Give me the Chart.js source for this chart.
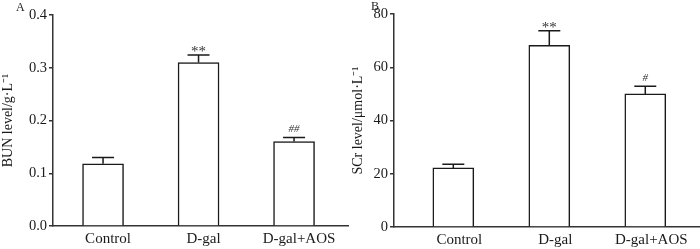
<!DOCTYPE html>
<html>
<head>
<meta charset="utf-8">
<script src="https://cdn.jsdelivr.net/npm/chart.js@4/dist/chart.umd.min.js"></script>
<style>
  body { margin: 0; background: #fff; }
  .wrap { position: absolute; top: 0; width: 350px; height: 249px; }
</style>
</head>
<body>
<div class="wrap" style="left:0"><canvas id="chartA" width="350" height="249"></canvas></div>
<div class="wrap" style="left:350px"><canvas id="chartB" width="350" height="249"></canvas></div>
<script>
// data
var groups = ['Control', 'D-gal', 'D-gal+AOS'];

var bunMean = [0.118, 0.310, 0.160];
var bunErr  = [0.012, 0.014, 0.008];
var bunSig  = ['', '**', '##'];
var bunTicks = [0, 0.1, 0.2, 0.3, 0.4];

var scrMean = [22.2, 68.2, 50.0];
var scrErr  = [1.4, 5.5, 2.9];
var scrSig  = ['', '**', '#'];
var scrTicks = [0, 20, 40, 60, 80];

var ink = '#1a1a1a';
var serif = "'Liberation Serif', 'Times New Roman', serif";

// error bars (upper only) + significance marks
var errorBars = {
  id: 'errorBars',
  afterDatasetsDraw: function(chart, args, opts) {
    var ctx = chart.ctx;
    var xs = chart.scales.x, ys = chart.scales.y;
    ctx.save();
    ctx.strokeStyle = ink;
    ctx.lineWidth = 1.5;
    for (var i = 0; i < opts.mean.length; i++) {
      var x = xs.getPixelForValue(i);
      var y0 = ys.getPixelForValue(opts.mean[i]);
      var y1 = ys.getPixelForValue(opts.mean[i] + opts.err[i]);
      ctx.beginPath();
      ctx.moveTo(x, y0);
      ctx.lineTo(x, y1);
      ctx.moveTo(x - 11, y1);
      ctx.lineTo(x + 11, y1);
      ctx.stroke();
      var s = opts.sig[i];
      if (s) {
        ctx.fillStyle = '#333';
        ctx.textAlign = 'center';
        ctx.textBaseline = 'alphabetic';
        if (s.charAt(0) == '*') {
          ctx.font = '15px ' + serif;
          ctx.fillText(s, x, y1 + 1);
        } else {
          ctx.font = 'italic 11px ' + serif;
          ctx.fillText(s, x, y1 - 5);
        }
      }
    }
    // panel letter
    ctx.fillStyle = ink;
    ctx.font = '12px ' + serif;
    ctx.textAlign = 'left';
    ctx.textBaseline = 'alphabetic';
    ctx.fillText(opts.letter, opts.letterX, opts.letterY);
    ctx.restore();
  }
};

function makeChart(id, mean, err, sig, ticks, opt) {
  var pts = mean.map(function(v, i) { return { x: i, y: v }; });
  return new Chart(document.getElementById(id), {
    type: 'bar',
    data: {
      datasets: [{
        data: pts,
        backgroundColor: '#fff',
        borderColor: ink,
        borderWidth: 1.5,
        barThickness: 41
      }]
    },
    options: {
      responsive: false,
      animation: false,
      layout: { padding: { top: opt.top, right: opt.right, left: 0, bottom: 0 } },
      plugins: {
        legend: { display: false },
        tooltip: { enabled: false },
        errorBars: {
          mean: mean, err: err, sig: sig,
          letter: opt.letter, letterX: opt.letterX, letterY: opt.letterY
        }
      },
      scales: {
        x: {
          type: 'linear',
          offset: false,
          min: opt.xMin,
          max: opt.xMax,
          afterBuildTicks: function(scale) {
            scale.ticks = groups.map(function(g, i) { return { value: i }; });
          },
          afterFit: function(scale) { scale.height = opt.xHeight; },
          grid: { display: false, drawTicks: false, tickLength: 0 },
          border: { display: true, color: '#333', width: 1.5 },
          ticks: {
            color: ink,
            padding: 4,
            labelOffset: opt.labelShift,
            maxRotation: 0,
            autoSkip: false,
            font: { family: serif, size: 15 },
            callback: function(v) { return groups[v]; }
          }
        },
        y: {
          min: ticks[0],
          max: ticks[ticks.length - 1],
          afterBuildTicks: function(scale) {
            scale.ticks = ticks.map(function(t) { return { value: t }; });
          },
          afterFit: function(scale) { scale.width = opt.yWidth; },
          grid: { drawOnChartArea: false, drawTicks: true, tickLength: 4, color: '#333', lineWidth: 1.5 },
          border: { display: true, color: '#333', width: 1.5 },
          ticks: {
            color: ink,
            padding: 2,
            font: { family: serif, size: 14.5 },
            callback: function(v) { return opt.fmt(v); }
          },
          title: {
            display: true,
            text: opt.title,
            color: ink,
            padding: { top: 0, bottom: 0 },
            font: { family: serif, size: 14 }
          }
        }
      }
    },
    plugins: [errorBars]
  });
}

makeChart('chartA', bunMean, bunErr, bunSig, bunTicks, {
  top: 15, right: 2, xHeight: 23, yWidth: 53,
  xMin: -0.524, xMax: 2.565, labelShift: 5,
  title: 'BUN level/g·L⁻¹',
  fmt: function(v) { return v.toFixed(1); },
  letter: 'A', letterX: 16, letterY: 11
});

makeChart('chartB', scrMean, scrErr, scrSig, scrTicks, {
  top: 14, right: 0, xHeight: 22, yWidth: 44,
  xMin: -0.618, xMax: 2.57, labelShift: 6,
  title: 'SCr level/μmol·L⁻¹',
  fmt: function(v) { return String(v); },
  letter: 'B', letterX: 21, letterY: 10
});
</script>
</body>
</html>
